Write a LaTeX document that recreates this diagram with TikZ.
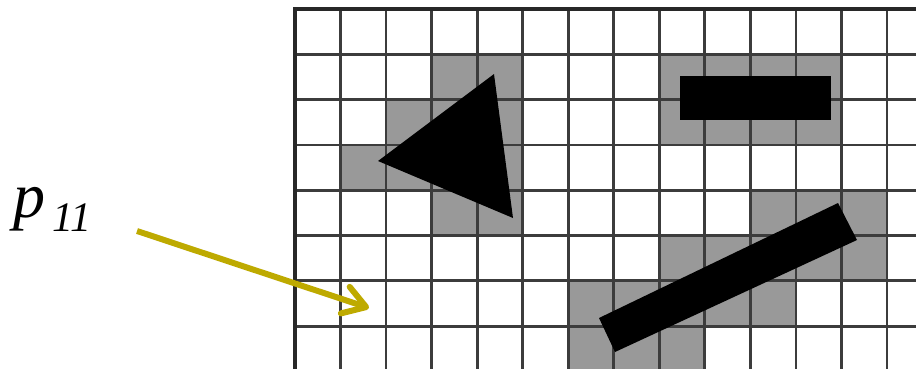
\documentclass[tikz,border=0pt]{standalone}
\usepackage{fontspec}
\setmainfont{Liberation Serif}
\usetikzlibrary{arrows.meta}
\definecolor{cellgray}{RGB}{153,153,153}
\definecolor{gridline}{RGB}{60,60,60}
\definecolor{borderline}{RGB}{40,40,40}
\definecolor{arrowolive}{RGB}{190,170,0}
\tikzset{
  gridstroke/.style={draw=gridline, line width=2.8pt},
  borderstroke/.style={draw=borderline, line width=4pt},
  shapefill/.style={fill=black, draw=none},
  pointer/.style={draw=arrowolive, line width=6pt, -{Straight Barb[length=22pt,width=28pt,round]}},
}
\begin{document}
\begin{tikzpicture}[x=1pt,y=-1pt]
\useasboundingbox (0,0) rectangle (916,368);
\def\cw{45.54}
\def\rh{45.3}
\begin{scope}
\clip (0,0) rectangle (916,368);
% gray cells
\foreach \c/\r in {3/1,4/1,8/1,9/1,10/1,11/1,
                   2/2,3/2,4/2,8/2,9/2,10/2,11/2,
                   1/3,2/3,3/3,4/3,
                   3/4,4/4,10/4,11/4,12/4,
                   8/5,9/5,10/5,11/5,12/5,
                   6/6,7/6,8/6,9/6,10/6,
                   6/7,7/7,8/7}
  \fill[cellgray] ({295+\c*\cw},{9+\r*\rh}) rectangle ({295+(\c+1)*\cw},{9+(\r+1)*\rh});
% grid lines
\foreach \c in {1,...,13}
  \draw[gridstroke] ({295+\c*\cw},9) -- ({295+\c*\cw},370);
\foreach \r in {1,...,7}
  \draw[gridstroke] (295,{9+\r*\rh}) -- (918,{9+\r*\rh});
\draw[borderstroke] (295,370) -- (295,9) -- (918,9);
% black shapes
\fill[shapefill] (494,74) -- (378,161) -- (513,218) -- cycle;
\fill[shapefill] (680,76) rectangle (831,120);
\fill[shapefill] (599,318) -- (838,203) -- (857,240) -- (615,352) -- cycle;
\end{scope}
% label
\node[anchor=base west, inner sep=0pt, font=\fontsize{64}{64}\selectfont\itshape] (p) at (13,217) {p};
\node[anchor=base west, inner sep=0pt, font=\fontsize{42}{42}\selectfont\itshape] (sub) at (52,231) {11};
% arrow
\coordinate (arrowstart) at (137,231);
\coordinate (arrowend) at (369,308);
\draw[pointer] (arrowstart) -- (arrowend);
\end{tikzpicture}
\end{document}
